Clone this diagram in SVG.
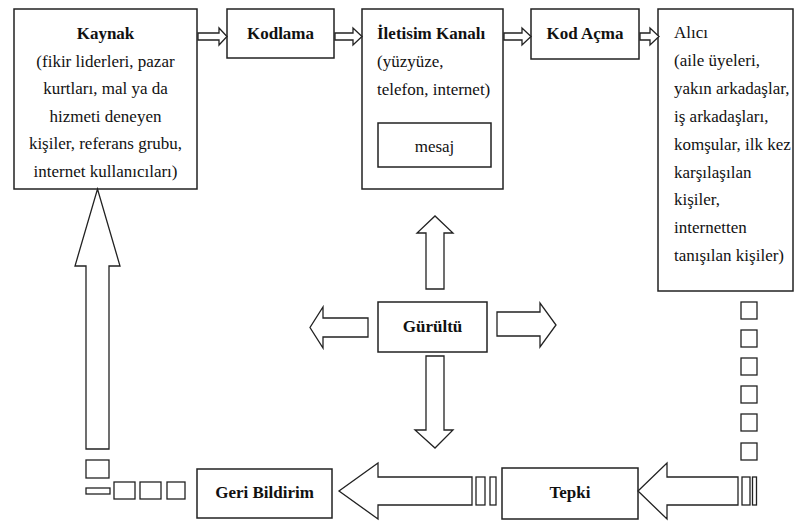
<svg xmlns="http://www.w3.org/2000/svg" width="795" height="521" viewBox="0 0 795 521">
  <style>
    .box { fill: #ffffff; stroke: #222222; stroke-width: 1.5; }
    .arr { fill: #ffffff; stroke: #222222; stroke-width: 1.3; stroke-linejoin: miter; }
    .sq { fill: #ffffff; stroke: #222222; stroke-width: 1.3; }
    text { font-family: 'Liberation Serif', 'DejaVu Serif', serif; font-size: 17px; fill: #111111; }
    .b { font-weight: bold; }
    .c { text-anchor: middle; }
  </style>
  <rect width="795" height="521" fill="#ffffff"/>

  <g font-family="Liberation Serif, DejaVu Serif, serif">
  <!-- Nodes -->
  <g id="kaynak">
    <rect class="box" x="14" y="9" width="183" height="180"/>
    <text class="b c" x="105.5" y="39">Kaynak</text>
    <text class="c" x="105.5" y="66.6">(fikir liderleri, pazar</text>
    <text class="c" x="105.5" y="94.2">kurtları, mal ya da</text>
    <text class="c" x="105.5" y="121.8">hizmeti deneyen</text>
    <text class="c" x="105.5" y="149.4">kişiler, referans grubu,</text>
    <text class="c" x="105.5" y="177">internet kullanıcıları)</text>
  </g>

  <g id="kodlama">
    <rect class="box" x="227" y="9" width="107" height="49"/>
    <text class="b c" x="280.5" y="39">Kodlama</text>
  </g>

  <g id="iletisim-kanali">
    <rect class="box" x="362" y="9" width="141" height="180"/>
    <text class="b" x="377" y="39">İletisim Kanalı</text>
    <text x="377" y="67">(yüzyüze,</text>
    <text x="377" y="94.5">telefon, internet)</text>
    <g id="mesaj">
      <rect class="box" x="378" y="123" width="113" height="44"/>
      <text class="c" x="434.5" y="152">mesaj</text>
    </g>
  </g>

  <g id="kod-acma">
    <rect class="box" x="531" y="9" width="108" height="50"/>
    <text class="b c" x="585" y="39">Kod Açma</text>
  </g>

  <g id="alici">
    <rect class="box" x="658" y="9" width="135" height="282"/>
    <text x="674" y="38">Alıcı</text>
    <text x="674" y="65.9">(aile üyeleri,</text>
    <text x="674" y="93.8">yakın arkadaşlar,</text>
    <text x="674" y="121.7">iş arkadaşları,</text>
    <text x="674" y="149.6">komşular, ilk kez</text>
    <text x="674" y="177.5">karşılaşılan</text>
    <text x="674" y="205.4">kişiler,</text>
    <text x="674" y="233.3">internetten</text>
    <text x="674" y="261.2">tanışılan kişiler)</text>
  </g>

  <g id="gurultu">
    <rect class="box" x="378" y="302" width="109" height="50"/>
    <text class="b c" x="432.5" y="332">Gürültü</text>
  </g>

  <g id="tepki">
    <rect class="box" x="502" y="468" width="136" height="51"/>
    <text class="b c" x="570" y="498">Tepki</text>
  </g>

  <g id="geri-bildirim">
    <rect class="box" x="197" y="469" width="135" height="49"/>
    <text class="b c" x="264.5" y="498">Geri Bildirim</text>
  </g>
  </g>

  <!-- Connectors -->
  <g id="connectors">
    <!-- top chain -->
    <polygon class="arr" points="198,33 219,33 219,28 227,36.5 219,45 219,40 198,40"/>
    <polygon class="arr" points="335,33 353,33 353,28 362,36.5 353,45 353,40 335,40"/>
    <polygon class="arr" points="504,33 522,33 522,28 531,36.5 522,45 522,40 504,40"/>
    <polygon class="arr" points="640,33 650,33 650,28 659,36.5 650,45 650,40 640,40"/>

    <!-- noise arrows -->
    <polygon class="arr" points="426,289 426,233 417,233 435,216 453,233 444,233 444,289"/>
    <polygon class="arr" points="368,318 323,318 323,307 310,327.5 323,348 323,337 368,337"/>
    <polygon class="arr" points="497,312 540,312 540,303 556,325 540,347 540,336 497,336"/>
    <polygon class="arr" points="426,356 444,356 444,430 453,430 435,448 415,430 426,430"/>

    <!-- receiver to response: dotted column -->
    <rect class="sq" x="741" y="302" width="16" height="17"/>
    <rect class="sq" x="741" y="330" width="16" height="17"/>
    <rect class="sq" x="741" y="358" width="16" height="17"/>
    <rect class="sq" x="741" y="386" width="16" height="17"/>
    <rect class="sq" x="741" y="414" width="16" height="17"/>
    <rect class="sq" x="741" y="443" width="16" height="17"/>
    <rect class="sq" x="742" y="477" width="8" height="28"/>
    <rect class="sq" x="752.5" y="477" width="4" height="28"/>
    <polygon class="arr" points="738,477 667,477 667,463 638,491 667,519 667,505 738,505"/>

    <!-- response to feedback -->
    <rect class="sq" x="476" y="477" width="9" height="28"/>
    <rect class="sq" x="490" y="477" width="6" height="28"/>
    <polygon class="arr" points="472,477 378,477 378,463 339,491 378,519 378,505 472,505"/>

    <!-- feedback to source -->
    <rect class="sq" x="167" y="482" width="18" height="17"/>
    <rect class="sq" x="140" y="482" width="21" height="17"/>
    <rect class="sq" x="114" y="482" width="21" height="17"/>
    <rect class="sq" x="86" y="488" width="24" height="6"/>
    <rect class="sq" x="86" y="460" width="23" height="18"/>
    <polygon class="arr" points="86,449 86,266 75,266 97.5,189 120,266 109,266 109,449"/>
  </g>
</svg>
